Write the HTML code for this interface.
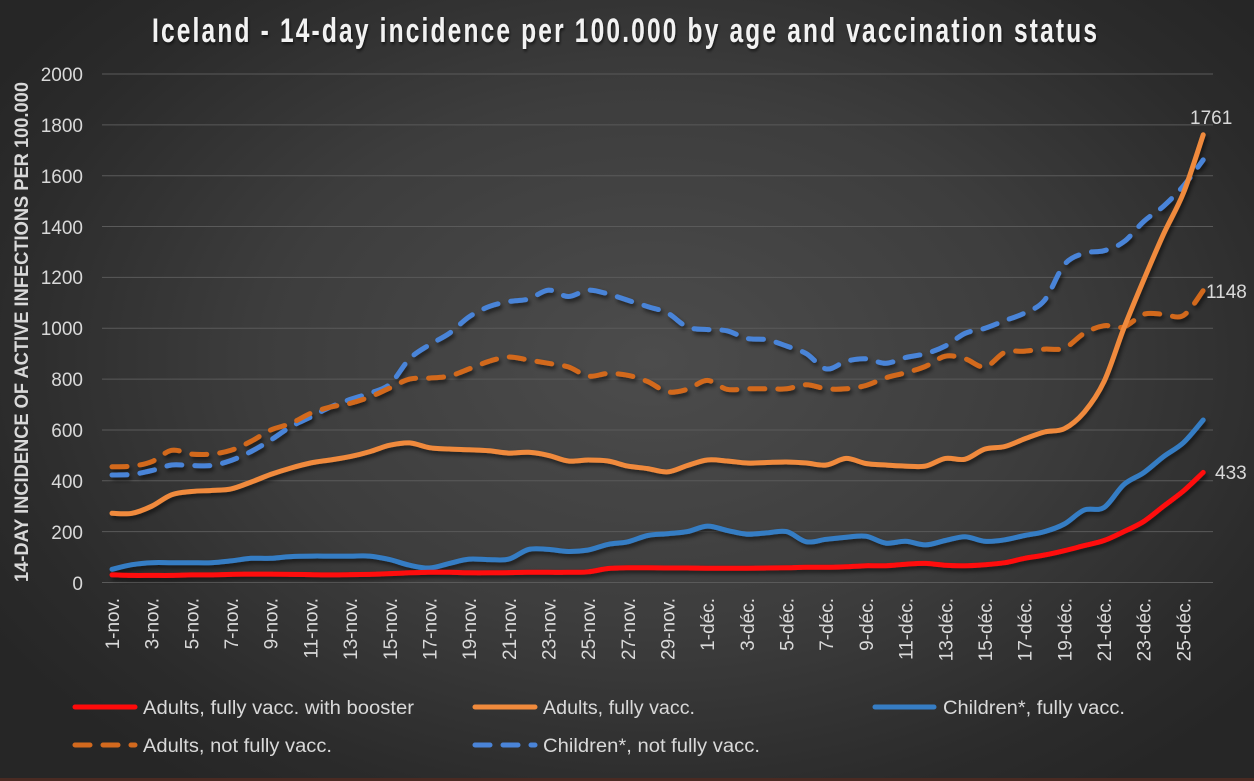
<!DOCTYPE html>
<html><head><meta charset="utf-8"><style>
html,body{margin:0;padding:0;width:1254px;height:781px;overflow:hidden;}
body{background:radial-gradient(ellipse 62% 68% at 52% 46%, #4c4c4c 0%, #3d3d3d 50%, #2b2b2b 85%, #262626 100%);}
svg{position:absolute;left:0;top:0;}
text{font-family:"Liberation Sans",sans-serif;}
</style></head><body>
<svg width="1254" height="781" viewBox="0 0 1254 781" xmlns="http://www.w3.org/2000/svg">
<defs>
<filter id="sh" x="-5%" y="-5%" width="110%" height="110%">
<feDropShadow dx="2" dy="3" stdDeviation="2" flood-color="#000" flood-opacity="0.55"/>
</filter>
<filter id="tsh" x="-5%" y="-20%" width="110%" height="150%">
<feDropShadow dx="1.5" dy="2" stdDeviation="1.5" flood-color="#000" flood-opacity="0.6"/>
</filter>
</defs>
<rect x="0" y="778" width="1254" height="3" fill="#4a2a22"/>
<g transform="scale(0.72,1)" filter="url(#tsh)">
<text x="211.1" y="42" font-size="34" font-weight="bold" fill="#f2f2f2" textLength="1312.5" lengthAdjust="spacing">Iceland - 14-day incidence per 100.000 by age and vaccination status</text>
</g>
<g stroke="#5a5a5a" stroke-width="1">
<line x1="102" x2="1213" y1="74" y2="74"/>
<line x1="102" x2="1213" y1="124.85" y2="124.85"/>
<line x1="102" x2="1213" y1="175.7" y2="175.7"/>
<line x1="102" x2="1213" y1="226.55" y2="226.55"/>
<line x1="102" x2="1213" y1="277.4" y2="277.4"/>
<line x1="102" x2="1213" y1="328.25" y2="328.25"/>
<line x1="102" x2="1213" y1="379.1" y2="379.1"/>
<line x1="102" x2="1213" y1="429.95" y2="429.95"/>
<line x1="102" x2="1213" y1="480.8" y2="480.8"/>
<line x1="102" x2="1213" y1="531.65" y2="531.65"/>
<line x1="102" x2="1213" y1="582.5" y2="582.5"/>
</g>
<g font-size="19" fill="#d9d9d9" text-anchor="end">
<text x="83" y="81">2000</text>
<text x="83" y="132">1800</text>
<text x="83" y="183">1600</text>
<text x="83" y="234">1400</text>
<text x="83" y="284">1200</text>
<text x="83" y="335">1000</text>
<text x="83" y="386">800</text>
<text x="83" y="437">600</text>
<text x="83" y="488">400</text>
<text x="83" y="539">200</text>
<text x="83" y="590">0</text>
</g>
<text transform="translate(28,332) rotate(-90)" text-anchor="middle" font-size="19" font-weight="bold" fill="#d9d9d9" textLength="500" lengthAdjust="spacingAndGlyphs">14-DAY INCIDENCE OF ACTIVE INFECTIONS PER 100.000</text>
<g font-size="19" fill="#d9d9d9" text-anchor="end">
<text transform="translate(119,598) rotate(-90)">1-nov.</text>
<text transform="translate(158.7,598) rotate(-90)">3-nov.</text>
<text transform="translate(198.4,598) rotate(-90)">5-nov.</text>
<text transform="translate(238,598) rotate(-90)">7-nov.</text>
<text transform="translate(277.7,598) rotate(-90)">9-nov.</text>
<text transform="translate(317.4,598) rotate(-90)">11-nov.</text>
<text transform="translate(357.1,598) rotate(-90)">13-nov.</text>
<text transform="translate(396.8,598) rotate(-90)">15-nov.</text>
<text transform="translate(436.4,598) rotate(-90)">17-nov.</text>
<text transform="translate(476.1,598) rotate(-90)">19-nov.</text>
<text transform="translate(515.8,598) rotate(-90)">21-nov.</text>
<text transform="translate(555.5,598) rotate(-90)">23-nov.</text>
<text transform="translate(595.2,598) rotate(-90)">25-nov.</text>
<text transform="translate(634.8,598) rotate(-90)">27-nov.</text>
<text transform="translate(674.5,598) rotate(-90)">29-nov.</text>
<text transform="translate(714.2,598) rotate(-90)">1-déc.</text>
<text transform="translate(753.9,598) rotate(-90)">3-déc.</text>
<text transform="translate(793.6,598) rotate(-90)">5-déc.</text>
<text transform="translate(833.2,598) rotate(-90)">7-déc.</text>
<text transform="translate(872.9,598) rotate(-90)">9-déc.</text>
<text transform="translate(912.6,598) rotate(-90)">11-déc.</text>
<text transform="translate(952.3,598) rotate(-90)">13-déc.</text>
<text transform="translate(992,598) rotate(-90)">15-déc.</text>
<text transform="translate(1031.6,598) rotate(-90)">17-déc.</text>
<text transform="translate(1071.3,598) rotate(-90)">19-déc.</text>
<text transform="translate(1111,598) rotate(-90)">21-déc.</text>
<text transform="translate(1150.7,598) rotate(-90)">23-déc.</text>
<text transform="translate(1190.4,598) rotate(-90)">25-déc.</text>
</g>
<g id="series" fill="none" stroke-width="5" stroke-linecap="round" stroke-linejoin="round" filter="url(#sh)">
<path id="bd" stroke="#4a84d8" stroke-dasharray="15 13"/>
<path id="od" stroke="#d2691e" stroke-dasharray="15 13"/>
<path id="bs" stroke="#367dc4"/>
<path id="os" stroke="#f08a3c"/>
<path id="rs" stroke="#ff0a0a"/>
</g>
<g font-size="19" fill="#d9d9d9">
<text x="1190" y="124">1761</text>
<text x="1206" y="298">1148</text>
<text x="1215" y="479">433</text>
</g>
<g stroke-width="5" stroke-linecap="round" fill="none">
<line x1="75" x2="135" y1="707" y2="707" stroke="#ff0a0a"/>
<line x1="475" x2="535" y1="707" y2="707" stroke="#f08a3c"/>
<line x1="875" x2="934" y1="707" y2="707" stroke="#367dc4"/>
<line x1="75" x2="135" y1="745" y2="745" stroke="#d2691e" stroke-dasharray="15 13"/>
<line x1="475" x2="535" y1="745" y2="745" stroke="#4a84d8" stroke-dasharray="15 13"/>
</g>
<g font-size="19" fill="#d9d9d9">
<text x="143" y="714" textLength="271" lengthAdjust="spacingAndGlyphs">Adults, fully vacc. with booster</text>
<text x="543" y="714" textLength="152" lengthAdjust="spacingAndGlyphs">Adults, fully vacc.</text>
<text x="943" y="714" textLength="182" lengthAdjust="spacingAndGlyphs">Children*, fully vacc.</text>
<text x="143" y="752" textLength="189" lengthAdjust="spacingAndGlyphs">Adults, not fully vacc.</text>
<text x="543" y="752" textLength="217" lengthAdjust="spacingAndGlyphs">Children*, not fully vacc.</text>
</g>
</svg>
<script>
var D={
rs:[30,28,28,28,30,30,32,33,33,32,31,30,31,32,35,38,40,40,38,38,39,40,40,40,42,55,58,58,57,57,56,56,56,57,58,60,60,62,66,66,72,75,68,66,70,78,95,108,125,145,165,200,240,300,360,433],
os:[272,272,300,345,358,362,368,395,425,450,470,482,495,515,540,549,530,525,522,518,509,512,500,478,482,478,458,448,435,460,482,478,470,472,474,470,462,488,468,462,458,458,488,485,525,535,565,592,605,670,790,1000,1190,1370,1532,1761],
bs:[52,70,78,78,78,78,85,95,95,102,104,104,104,104,90,68,57,75,92,90,92,130,130,122,128,150,160,185,192,200,222,205,190,195,200,160,170,178,182,155,162,148,165,180,162,168,185,200,230,285,295,385,432,495,550,639],
od:[455,458,475,520,505,505,520,555,600,625,665,690,705,730,765,800,804,812,840,870,887,875,862,848,812,822,815,790,750,760,795,760,762,762,762,778,762,762,775,805,825,850,890,880,848,905,910,918,922,980,1010,1005,1055,1055,1050,1148],
bd:[423,425,440,462,460,460,480,515,560,612,650,690,720,745,780,880,935,980,1045,1085,1105,1115,1150,1125,1150,1135,1110,1085,1060,1005,995,990,960,955,930,900,840,870,880,862,885,900,930,980,1000,1030,1060,1110,1250,1295,1305,1340,1420,1480,1560,1662]
};
function mk(v){
 var p=v.map(function(a,i){return [112+i*19.84,582.5-a*0.25425];});
 var d="M"+p[0][0].toFixed(1)+","+p[0][1].toFixed(1);
 for(var i=0;i<p.length-1;i++){
  var p0=p[i-1]||p[i],p1=p[i],p2=p[i+1],p3=p[i+2]||p[i+1];
  var c1x=p1[0]+(p2[0]-p0[0])/6,c1y=p1[1]+(p2[1]-p0[1])/6;
  var c2x=p2[0]-(p3[0]-p1[0])/6,c2y=p2[1]-(p3[1]-p1[1])/6;
  d+="C"+c1x.toFixed(1)+","+c1y.toFixed(1)+" "+c2x.toFixed(1)+","+c2y.toFixed(1)+" "+p2[0].toFixed(1)+","+p2[1].toFixed(1);
 }
 return d;
}
for(var k in D){document.getElementById(k).setAttribute("d",mk(D[k]));}
</script>
</body></html>
